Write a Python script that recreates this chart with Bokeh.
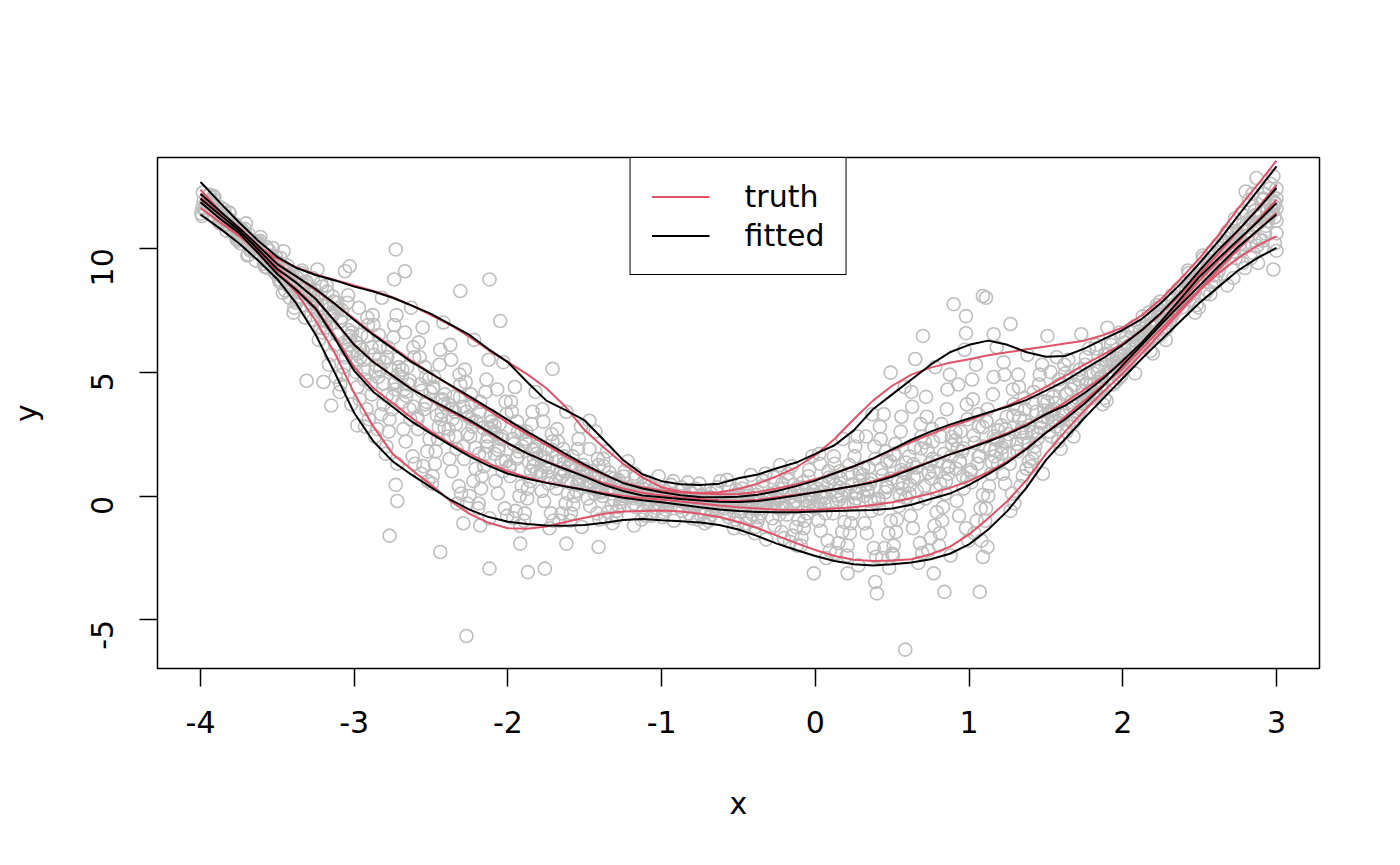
import math
from bokeh.plotting import figure
from bokeh.models import Range1d, FixedTicker, Legend, LegendItem
from bokeh.embed import file_html
from bokeh.resources import INLINE

# ---------------- data ----------------
grid_x = [-4.0, -3.875, -3.75, -3.625, -3.5, -3.375, -3.25, -3.125,
          -3.0, -2.875, -2.75, -2.625, -2.5, -2.375, -2.25, -2.125,
          -2.0, -1.875, -1.75, -1.625, -1.5, -1.375, -1.25, -1.125,
          -1.0, -0.875, -0.75, -0.625, -0.5, -0.375, -0.25, -0.125,
          0.0, 0.125, 0.25, 0.375, 0.5, 0.625, 0.75, 0.875,
          1.0, 1.125, 1.25, 1.375, 1.5, 1.625, 1.75, 1.875,
          2.0, 2.125, 2.25, 2.375, 2.5, 2.625, 2.75, 2.875,
          3.0]

true_q05 = [11.62, 11.05, 10.5, 9.85, 9.05, 8.2, 7.06, 5.75,
            4.15, 2.8, 1.7, 1.05, 0.45, -0.2, -0.72, -1.08,
            -1.3, -1.32, -1.23, -1.05, -0.88, -0.72, -0.62, -0.6,
            -0.58, -0.62, -0.72, -0.85, -1.05, -1.3, -1.6, -1.9,
            -2.18, -2.42, -2.57, -2.62, -2.6, -2.55, -2.35, -2.05,
            -1.55, -0.9, -0.2, 0.65, 1.7, 2.6, 3.45, 4.22,
            4.95, 5.75, 6.6, 7.45, 8.3, 9.0, 9.6, 10.1,
            10.48]
true_q25 = [11.85, 11.2, 10.55, 9.8, 9.0, 8.35, 7.6, 6.45,
            5.2, 4.35, 3.75, 3.15, 2.6, 2.12, 1.7, 1.32,
            1.0, 0.75, 0.55, 0.4, 0.25, 0.12, 0.0, -0.08,
            -0.15, -0.22, -0.3, -0.38, -0.45, -0.5, -0.55, -0.56,
            -0.55, -0.5, -0.45, -0.36, -0.25, -0.08, 0.1, 0.33,
            0.6, 0.97, 1.4, 1.95, 2.55, 3.2, 3.85, 4.5,
            5.15, 5.95, 6.75, 7.55, 8.35, 9.15, 9.95, 10.7,
            11.42]
true_q50 = [12.0, 11.35, 10.7, 9.97, 9.2, 8.6, 7.95, 7.05,
            6.1, 5.42, 4.85, 4.32, 3.85, 3.42, 3.0, 2.55,
            2.1, 1.72, 1.4, 1.1, 0.8, 0.52, 0.3, 0.13,
            0.02, -0.07, -0.12, -0.17, -0.2, -0.15, -0.05, 0.05,
            0.15, 0.27, 0.4, 0.6, 0.85, 1.12, 1.4, 1.68,
            1.95, 2.24, 2.55, 2.9, 3.3, 3.78, 4.3, 4.83,
            5.4, 6.15, 6.95, 7.82, 8.7, 9.5, 10.25, 11.1,
            11.96]
true_q75 = [12.15, 11.45, 10.85, 10.12, 9.4, 8.85, 8.3, 7.75,
            7.15, 6.55, 6.0, 5.45, 4.95, 4.45, 3.95, 3.45,
            2.95, 2.5, 2.05, 1.6, 1.2, 0.85, 0.55, 0.35,
            0.22, 0.14, 0.1, 0.07, 0.08, 0.16, 0.3, 0.47,
            0.68, 0.92, 1.2, 1.5, 1.85, 2.18, 2.5, 2.8,
            3.05, 3.35, 3.65, 4.0, 4.4, 4.85, 5.3, 5.72,
            6.15, 6.7, 7.35, 8.12, 8.95, 9.8, 10.7, 11.6,
            12.56]
true_q95 = [12.36, 11.5, 10.75, 10.05, 9.58, 9.22, 8.94, 8.72,
            8.5, 8.27, 8.02, 7.68, 7.3, 6.9, 6.42, 5.88,
            5.4, 4.92, 4.35, 3.6, 2.65, 1.95, 1.3, 0.75,
            0.35, 0.17, 0.12, 0.15, 0.28, 0.5, 0.8, 1.15,
            1.65, 2.3, 3.1, 3.85, 4.45, 4.9, 5.18, 5.38,
            5.52, 5.68, 5.8, 5.92, 6.03, 6.15, 6.27, 6.5,
            6.8, 7.3, 7.95, 8.75, 9.6, 10.55, 11.6, 12.55,
            13.53]

fit_q05 = [11.36, 10.8, 10.2, 9.5, 8.75, 7.75, 6.5, 4.95,
           3.35, 2.2, 1.4, 0.85, 0.35, -0.15, -0.55, -0.85,
           -1.04, -1.13, -1.19, -1.2, -1.17, -1.08, -0.97, -0.93,
           -0.98, -1.02, -1.07, -1.17, -1.35, -1.62, -1.92, -2.18,
           -2.42, -2.62, -2.75, -2.8, -2.75, -2.68, -2.55, -2.33,
           -1.95, -1.35, -0.6, 0.35, 1.45, 2.3, 3.15, 3.95,
           4.75, 5.55, 6.3, 7.05, 7.8, 8.45, 9.1, 9.6,
           10.01]
fit_q25 = [11.85, 11.2, 10.62, 9.8, 8.95, 8.3, 7.55, 6.35,
           5.05, 4.2, 3.6, 3.0, 2.52, 2.05, 1.6, 1.22,
           0.9, 0.7, 0.53, 0.38, 0.24, 0.07, -0.07, -0.17,
           -0.25, -0.35, -0.45, -0.54, -0.6, -0.64, -0.65, -0.65,
           -0.62, -0.6, -0.58, -0.56, -0.5, -0.35, -0.12, 0.1,
           0.45, 0.88, 1.35, 1.9, 2.55, 3.1, 3.72, 4.45,
           5.28, 6.1, 6.93, 7.72, 8.49, 9.28, 10.05, 10.7,
           11.36]
fit_q50 = [12.0, 11.35, 10.72, 9.95, 9.15, 8.6, 7.95, 7.05,
           6.1, 5.4, 4.86, 4.3, 3.88, 3.48, 3.06, 2.6,
           2.13, 1.72, 1.38, 1.08, 0.78, 0.45, 0.2, 0.02,
           -0.05, -0.12, -0.18, -0.23, -0.24, -0.2, -0.1, 0.02,
           0.15, 0.27, 0.4, 0.55, 0.78, 1.08, 1.38, 1.68,
           1.93, 2.2, 2.5, 2.85, 3.3, 3.65, 4.15, 4.75,
           5.47, 6.2, 7.06, 7.95, 8.85, 9.6, 10.33, 11.05,
           11.82]
fit_q75 = [12.2, 11.5, 10.82, 10.1, 9.35, 8.85, 8.35, 7.75,
           7.1, 6.5, 5.95, 5.4, 4.94, 4.48, 4.02, 3.55,
           3.07, 2.6, 2.15, 1.7, 1.27, 0.88, 0.52, 0.3,
           0.15, 0.03, -0.04, -0.05, -0.03, 0.05, 0.2, 0.4,
           0.62, 0.92, 1.2, 1.52, 1.88, 2.27, 2.6, 2.88,
           3.13, 3.37, 3.6, 3.88, 4.25, 4.65, 5.12, 5.57,
           6.1, 6.7, 7.4, 8.2, 9.1, 9.95, 10.72, 11.55,
           12.43]
fit_q95 = [12.67, 11.85, 11.05, 10.3, 9.65, 9.2, 8.92, 8.7,
           8.45, 8.25, 8.0, 7.68, 7.35, 6.93, 6.5, 5.92,
           5.4, 4.6, 3.85, 3.47, 3.05, 2.25, 1.45, 0.88,
           0.6, 0.47, 0.44, 0.5, 0.72, 0.87, 1.12, 1.35,
           1.7, 2.05, 2.65, 3.5, 4.1, 4.7, 5.3, 5.8,
           6.1, 6.27, 6.1, 5.8, 5.62, 5.65, 5.95, 6.33,
           6.7, 7.15, 7.8, 8.55, 9.4, 10.3, 11.3, 12.3,
           13.3]

# observations: the dense cloud, read band by band (8 per 0.1 of x)
cloud_x = [
    -3.99, -3.97, -3.95, -3.93, -3.91, -3.98, -3.94, -3.92,
    -3.82, -3.88, -3.84, -3.86, -3.89, -3.81, -3.87, -3.83,
    -3.75, -3.71, -3.79, -3.73, -3.77, -3.74, -3.78, -3.72,
    -3.69, -3.67, -3.65, -3.63, -3.61, -3.68, -3.64, -3.62,
    -3.52, -3.58, -3.54, -3.56, -3.59, -3.51, -3.57, -3.53,
    -3.45, -3.41, -3.49, -3.43, -3.47, -3.44, -3.48, -3.42,
    -3.39, -3.37, -3.35, -3.33, -3.31, -3.38, -3.34, -3.32,
    -3.22, -3.28, -3.24, -3.26, -3.29, -3.21, -3.27, -3.23,
    -3.15, -3.11, -3.19, -3.13, -3.17, -3.14, -3.18, -3.12,
    -3.09, -3.07, -3.05, -3.03, -3.01, -3.08, -3.04, -3.02,
    -2.92, -2.98, -2.94, -2.96, -2.99, -2.91, -2.97, -2.93,
    -2.85, -2.81, -2.89, -2.83, -2.87, -2.84, -2.88, -2.82,
    -2.79, -2.77, -2.75, -2.73, -2.71, -2.78, -2.74, -2.72,
    -2.62, -2.68, -2.64, -2.66, -2.69, -2.61, -2.67, -2.63,
    -2.55, -2.51, -2.59, -2.53, -2.57, -2.54, -2.58, -2.52,
    -2.49, -2.47, -2.45, -2.43, -2.41, -2.48, -2.44, -2.42,
    -2.32, -2.38, -2.34, -2.36, -2.39, -2.31, -2.37, -2.33,
    -2.25, -2.21, -2.29, -2.23, -2.27, -2.24, -2.28, -2.22,
    -2.19, -2.17, -2.15, -2.13, -2.11, -2.18, -2.14, -2.12,
    -2.02, -2.08, -2.04, -2.06, -2.09, -2.01, -2.07, -2.03,
    -1.95, -1.91, -1.99, -1.93, -1.97, -1.94, -1.98, -1.92,
    -1.89, -1.87, -1.85, -1.83, -1.81, -1.88, -1.84, -1.82,
    -1.72, -1.78, -1.74, -1.76, -1.79, -1.71, -1.77, -1.73,
    -1.65, -1.61, -1.69, -1.63, -1.67, -1.64, -1.68, -1.62,
    -1.59, -1.57, -1.55, -1.53, -1.51, -1.58, -1.54, -1.52,
    -1.42, -1.48, -1.44, -1.46, -1.49, -1.41, -1.47, -1.43,
    -1.35, -1.31, -1.39, -1.33, -1.37, -1.34, -1.38, -1.32,
    -1.29, -1.27, -1.25, -1.23, -1.21, -1.28, -1.24, -1.22,
    -1.12, -1.18, -1.14, -1.16, -1.19, -1.11, -1.17, -1.13,
    -1.05, -1.01, -1.09, -1.03, -1.07, -1.04, -1.08, -1.02,
    -0.99, -0.97, -0.95, -0.93, -0.91, -0.98, -0.94, -0.92,
    -0.82, -0.88, -0.84, -0.86, -0.89, -0.81, -0.87, -0.83,
    -0.75, -0.71, -0.79, -0.73, -0.77, -0.74, -0.78, -0.72,
    -0.69, -0.67, -0.65, -0.63, -0.61, -0.68, -0.64, -0.62,
    -0.52, -0.58, -0.54, -0.56, -0.59, -0.51, -0.57, -0.53,
    -0.45, -0.41, -0.49, -0.43, -0.47, -0.44, -0.48, -0.42,
    -0.39, -0.37, -0.35, -0.33, -0.31, -0.38, -0.34, -0.32,
    -0.22, -0.28, -0.24, -0.26, -0.29, -0.21, -0.27, -0.23,
    -0.15, -0.11, -0.19, -0.13, -0.17, -0.14, -0.18, -0.12,
    -0.09, -0.07, -0.05, -0.03, -0.01, -0.08, -0.04, -0.02,
    0.08, 0.02, 0.06, 0.04, 0.01, 0.09, 0.03, 0.07,
    0.15, 0.19, 0.11, 0.17, 0.13, 0.16, 0.12, 0.18,
    0.21, 0.23, 0.25, 0.27, 0.29, 0.22, 0.26, 0.28,
    0.38, 0.32, 0.36, 0.34, 0.31, 0.39, 0.33, 0.37,
    0.45, 0.49, 0.41, 0.47, 0.43, 0.46, 0.42, 0.48,
    0.51, 0.53, 0.55, 0.57, 0.59, 0.52, 0.56, 0.58,
    0.68, 0.62, 0.66, 0.64, 0.61, 0.69, 0.63, 0.67,
    0.75, 0.79, 0.71, 0.77, 0.73, 0.76, 0.72, 0.78,
    0.81, 0.83, 0.85, 0.87, 0.89, 0.82, 0.86, 0.88,
    0.98, 0.92, 0.96, 0.94, 0.91, 0.99, 0.93, 0.97,
    1.05, 1.09, 1.01, 1.07, 1.03, 1.06, 1.02, 1.08,
    1.11, 1.13, 1.15, 1.17, 1.19, 1.12, 1.16, 1.18,
    1.28, 1.22, 1.26, 1.24, 1.21, 1.29, 1.23, 1.27,
    1.35, 1.39, 1.31, 1.37, 1.33, 1.36, 1.32, 1.38,
    1.41, 1.43, 1.45, 1.47, 1.49, 1.42, 1.46, 1.48,
    1.58, 1.52, 1.56, 1.54, 1.51, 1.59, 1.53, 1.57,
    1.65, 1.69, 1.61, 1.67, 1.63, 1.66, 1.62, 1.68,
    1.71, 1.73, 1.75, 1.77, 1.79, 1.72, 1.76, 1.78,
    1.88, 1.82, 1.86, 1.84, 1.81, 1.89, 1.83, 1.87,
    1.95, 1.99, 1.91, 1.97, 1.93, 1.96, 1.92, 1.98,
    2.01, 2.03, 2.05, 2.07, 2.09, 2.02, 2.06, 2.08,
    2.18, 2.12, 2.16, 2.14, 2.11, 2.19, 2.13, 2.17,
    2.25, 2.29, 2.21, 2.27, 2.23, 2.26, 2.22, 2.28,
    2.31, 2.33, 2.35, 2.37, 2.39, 2.32, 2.36, 2.38,
    2.48, 2.42, 2.46, 2.44, 2.41, 2.49, 2.43, 2.47,
    2.55, 2.59, 2.51, 2.57, 2.53, 2.56, 2.52, 2.58,
    2.61, 2.63, 2.65, 2.67, 2.69, 2.62, 2.66, 2.68,
    2.78, 2.72, 2.76, 2.74, 2.71, 2.79, 2.73, 2.77,
    2.85, 2.89, 2.81, 2.87, 2.83, 2.86, 2.82, 2.88,
    2.91, 2.93, 2.95, 2.97, 2.99, 2.92, 2.96, 2.98,
    3.0, 3.0, 3.0, 3.0, 3.0, 2.99, 2.99, 3.0,
]
cloud_y = [
    11.3, 11.5, 11.7, 11.85, 12.05, 11.9, 12.15, 11.75,
    10.95, 11.05, 11.2, 11.3, 11.5, 11.4, 11.65, 10.7,
    10.4, 10.55, 10.65, 10.75, 10.95, 10.2, 10.85, 10.6,
    9.75, 9.95, 10.1, 10.2, 10.45, 10.35, 9.5, 10.05,
    9.05, 9.25, 9.45, 9.55, 9.8, 9.65, 10.05, 9.35,
    8.3, 8.55, 8.75, 8.95, 9.2, 9.05, 9.6, 8.0,
    7.6, 7.95, 8.2, 8.35, 8.6, 8.85, 9.1, 7.2,
    6.8, 7.3, 7.7, 7.9, 8.15, 8.45, 8.8, 6.3,
    5.7, 6.5, 7.1, 7.4, 7.7, 8.05, 8.5, 4.8,
    4.5, 5.2, 5.9, 6.3, 6.9, 7.5, 8.1, 3.7,
    3.5, 4.4, 5.1, 5.6, 6.2, 6.9, 7.6, 2.8,
    2.7, 3.7, 4.5, 5.1, 5.7, 6.5, 7.3, 8.0,
    2.0, 3.1, 4.0, 4.6, 5.2, 6.0, 6.9, 1.3,
    1.6, 2.7, 3.5, 4.2, 4.8, 5.6, 6.6, 7.6,
    1.2, 2.3, 3.2, 3.8, 4.5, 5.2, 6.2, 0.6,
    0.8, 1.8, 2.8, 3.4, 4.1, 4.8, 5.9, 7.0,
    0.4, 1.5, 2.4, 3.1, 3.7, 4.5, 5.5, -0.3,
    0.0, 1.1, 2.0, 2.8, 3.4, 4.1, 5.1, 6.3,
    -0.3, 0.8, 1.7, 2.4, 3.0, 3.8, 4.7, -0.9,
    -0.5, 0.6, 1.4, 2.0, 2.6, 3.3, 4.3, 5.4,
    -0.6, 0.4, 1.2, 1.8, 2.3, 3.0, 3.8, -1.2,
    -0.7, 0.3, 1.0, 1.5, 2.0, 2.6, 3.4, 4.2,
    -0.7, 0.2, 0.8, 1.2, 1.6, 2.2, 3.0, -1.3,
    -0.7, 0.1, 0.6, 1.0, 1.4, 1.9, 2.7, 3.4,
    -0.7, 0.0, 0.45, 0.8, 1.1, 1.6, 2.3, -1.25,
    -0.7, -0.1, 0.3, 0.55, 0.85, 1.25, 1.9, 2.6,
    -0.65, -0.15, 0.15, 0.35, 0.6, 0.95, 1.5, -1.1,
    -0.6, -0.25, 0.0, 0.15, 0.35, 0.65, 1.0, 1.4,
    -0.6, -0.3, -0.05, 0.05, 0.2, 0.45, 0.75, -0.95,
    -0.6, -0.35, -0.12, -0.02, 0.1, 0.3, 0.55, 0.8,
    -0.65, -0.4, -0.2, -0.1, 0.02, 0.2, 0.45, -1.0,
    -0.7, -0.45, -0.25, -0.15, -0.05, 0.12, 0.35, 0.55,
    -0.75, -0.55, -0.35, -0.2, -0.1, 0.05, 0.3, -1.1,
    -0.85, -0.6, -0.4, -0.25, -0.1, 0.1, 0.35, 0.6,
    -0.95, -0.7, -0.45, -0.3, -0.12, 0.1, 0.4, -1.3,
    -1.1, -0.75, -0.5, -0.3, -0.1, 0.15, 0.5, 0.85,
    -1.25, -0.85, -0.5, -0.3, -0.05, 0.2, 0.6, -1.75,
    -1.45, -0.9, -0.5, -0.25, 0.0, 0.3, 0.75, 1.25,
    -1.6, -0.95, -0.45, -0.2, 0.1, 0.45, 0.9, -2.0,
    -1.7, -1.0, -0.4, -0.1, 0.2, 0.55, 1.05, 1.6,
    -1.8, -1.0, -0.35, -0.05, 0.3, 0.75, 1.3, -2.5,
    -1.9, -1.05, -0.3, 0.0, 0.45, 1.0, 1.6, 2.3,
    -2.0, -1.1, -0.3, 0.1, 0.6, 1.25, 2.0, -2.8,
    -2.1, -1.1, -0.2, 0.2, 0.85, 1.5, 2.4, 3.3,
    -2.1, -1.0, -0.1, 0.35, 1.1, 1.8, 2.8, -2.9,
    -2.0, -0.95, 0.0, 0.55, 1.35, 2.1, 3.2, 4.4,
    -1.9, -0.8, 0.2, 0.75, 1.6, 2.4, 3.6, -2.7,
    -1.7, -0.65, 0.4, 1.0, 1.85, 2.7, 4.0, 5.2,
    -1.5, -0.45, 0.6, 1.2, 2.05, 2.9, 4.3, -2.4,
    -1.3, -0.2, 0.8, 1.4, 2.25, 3.1, 4.5, 5.9,
    -1.0, 0.05, 1.05, 1.6, 2.45, 3.3, 4.7, -1.8,
    -0.5, 0.4, 1.35, 1.85, 2.65, 3.5, 4.8, 6.0,
    0.1, 0.9, 1.7, 2.2, 2.85, 3.7, 4.9, -0.6,
    0.8, 1.4, 2.1, 2.55, 3.15, 3.95, 4.9, 5.7,
    1.5, 2.0, 2.55, 2.95, 3.45, 4.2, 4.9, 0.9,
    2.2, 2.6, 3.0, 3.3, 3.8, 4.5, 5.0, 5.6,
    2.8, 3.05, 3.4, 3.65, 4.1, 4.8, 5.3, 2.4,
    3.35, 3.6, 3.85, 4.05, 4.5, 5.1, 5.6, 5.95,
    3.95, 4.2, 4.45, 4.6, 4.95, 5.5, 5.95, 3.7,
    4.6, 4.85, 5.05, 5.2, 5.5, 5.9, 6.35, 6.6,
    5.2, 5.45, 5.65, 5.8, 6.05, 6.4, 6.75, 4.95,
    5.85, 6.15, 6.3, 6.45, 6.65, 6.95, 7.25, 7.4,
    6.55, 6.8, 6.95, 7.05, 7.25, 7.45, 7.7, 6.3,
    7.1, 7.4, 7.6, 7.75, 7.9, 8.1, 8.35, 8.45,
    7.7, 8.05, 8.3, 8.5, 8.65, 8.8, 9.0, 7.4,
    8.3, 8.65, 8.95, 9.1, 9.3, 9.5, 9.7, 9.85,
    8.9, 9.3, 9.6, 9.8, 9.95, 10.15, 10.45, 8.5,
    9.4, 9.85, 10.15, 10.35, 10.55, 10.8, 11.2, 11.4,
    9.8, 10.35, 10.7, 10.95, 11.2, 11.5, 11.95, 9.4,
    10.3, 10.9, 11.3, 11.55, 11.85, 12.2, 12.6, 12.9,
    10.6, 11.1, 11.6, 12.0, 12.4, 11.8, 10.2, 9.9,
]

# second pass over the same bands, filling the gaps between circles
cloud2_x = [
    -3.995, -3.975, -3.955, -3.935, -3.915, -3.985, -3.945, -3.925,
    -3.805, -3.865, -3.835, -3.885, -3.845, -3.855, -3.815, -3.875,
    -3.765, -3.725, -3.785, -3.745, -3.705, -3.735, -3.775, -3.755,
    -3.695, -3.675, -3.655, -3.635, -3.615, -3.685, -3.645, -3.625,
    -3.505, -3.565, -3.535, -3.585, -3.545, -3.555, -3.515, -3.575,
    -3.465, -3.425, -3.485, -3.445, -3.405, -3.435, -3.475, -3.455,
    -3.395, -3.375, -3.355, -3.335, -3.315, -3.385, -3.345, -3.325,
    -3.205, -3.265, -3.235, -3.285, -3.245, -3.255, -3.215, -3.275,
    -3.165, -3.125, -3.185, -3.145, -3.105, -3.135, -3.175, -3.155,
    -3.095, -3.075, -3.055, -3.035, -3.015, -3.085, -3.045, -3.025,
    -2.905, -2.965, -2.935, -2.985, -2.945, -2.955, -2.915, -2.975,
    -2.865, -2.825, -2.885, -2.845, -2.805, -2.835, -2.875, -2.855,
    -2.795, -2.775, -2.755, -2.735, -2.715, -2.785, -2.745, -2.725,
    -2.605, -2.665, -2.635, -2.685, -2.645, -2.655, -2.615, -2.675,
    -2.565, -2.525, -2.585, -2.545, -2.505, -2.535, -2.575, -2.555,
    -2.495, -2.475, -2.455, -2.435, -2.415, -2.485, -2.445, -2.425,
    -2.305, -2.365, -2.335, -2.385, -2.345, -2.355, -2.315, -2.375,
    -2.265, -2.225, -2.285, -2.245, -2.205, -2.235, -2.275, -2.255,
    -2.195, -2.175, -2.155, -2.135, -2.115, -2.185, -2.145, -2.125,
    -2.005, -2.065, -2.035, -2.085, -2.045, -2.055, -2.015, -2.075,
    -1.965, -1.925, -1.985, -1.945, -1.905, -1.935, -1.975, -1.955,
    -1.895, -1.875, -1.855, -1.835, -1.815, -1.885, -1.845, -1.825,
    -1.705, -1.765, -1.735, -1.785, -1.745, -1.755, -1.715, -1.775,
    -1.665, -1.625, -1.685, -1.645, -1.605, -1.635, -1.675, -1.655,
    -1.595, -1.575, -1.555, -1.535, -1.515, -1.585, -1.545, -1.525,
    -1.405, -1.465, -1.435, -1.485, -1.445, -1.455, -1.415, -1.475,
    -1.365, -1.325, -1.385, -1.345, -1.305, -1.335, -1.375, -1.355,
    -1.295, -1.275, -1.255, -1.235, -1.215, -1.285, -1.245, -1.225,
    -1.105, -1.165, -1.135, -1.185, -1.145, -1.155, -1.115, -1.175,
    -1.065, -1.025, -1.085, -1.045, -1.005, -1.035, -1.075, -1.055,
    -0.995, -0.975, -0.955, -0.935, -0.915, -0.985, -0.945, -0.925,
    -0.805, -0.865, -0.835, -0.885, -0.845, -0.855, -0.815, -0.875,
    -0.765, -0.725, -0.785, -0.745, -0.705, -0.735, -0.775, -0.755,
    -0.695, -0.675, -0.655, -0.635, -0.615, -0.685, -0.645, -0.625,
    -0.505, -0.565, -0.535, -0.585, -0.545, -0.555, -0.515, -0.575,
    -0.465, -0.425, -0.485, -0.445, -0.405, -0.435, -0.475, -0.455,
    -0.395, -0.375, -0.355, -0.335, -0.315, -0.385, -0.345, -0.325,
    -0.205, -0.265, -0.235, -0.285, -0.245, -0.255, -0.215, -0.275,
    -0.165, -0.125, -0.185, -0.145, -0.105, -0.135, -0.175, -0.155,
    -0.095, -0.075, -0.055, -0.035, -0.015, -0.085, -0.045, -0.025,
    0.095, 0.035, 0.065, 0.015, 0.055, 0.045, 0.085, 0.025,
    0.135, 0.175, 0.115, 0.155, 0.195, 0.165, 0.125, 0.145,
    0.205, 0.225, 0.245, 0.265, 0.285, 0.215, 0.255, 0.275,
    0.395, 0.335, 0.365, 0.315, 0.355, 0.345, 0.385, 0.325,
    0.435, 0.475, 0.415, 0.455, 0.495, 0.465, 0.425, 0.445,
    0.505, 0.525, 0.545, 0.565, 0.585, 0.515, 0.555, 0.575,
    0.695, 0.635, 0.665, 0.615, 0.655, 0.645, 0.685, 0.625,
    0.735, 0.775, 0.715, 0.755, 0.795, 0.765, 0.725, 0.745,
    0.805, 0.825, 0.845, 0.865, 0.885, 0.815, 0.855, 0.875,
    0.995, 0.935, 0.965, 0.915, 0.955, 0.945, 0.985, 0.925,
    1.035, 1.075, 1.015, 1.055, 1.095, 1.065, 1.025, 1.045,
    1.105, 1.125, 1.145, 1.165, 1.185, 1.115, 1.155, 1.175,
    1.295, 1.235, 1.265, 1.215, 1.255, 1.245, 1.285, 1.225,
    1.335, 1.375, 1.315, 1.355, 1.395, 1.365, 1.325, 1.345,
    1.405, 1.425, 1.445, 1.465, 1.485, 1.415, 1.455, 1.475,
    1.595, 1.535, 1.565, 1.515, 1.555, 1.545, 1.585, 1.525,
    1.635, 1.675, 1.615, 1.655, 1.695, 1.665, 1.625, 1.645,
    1.705, 1.725, 1.745, 1.765, 1.785, 1.715, 1.755, 1.775,
    1.895, 1.835, 1.865, 1.815, 1.855, 1.845, 1.885, 1.825,
    1.935, 1.975, 1.915, 1.955, 1.995, 1.965, 1.925, 1.945,
    2.005, 2.025, 2.045, 2.065, 2.085, 2.015, 2.055, 2.075,
    2.195, 2.135, 2.165, 2.115, 2.155, 2.145, 2.185, 2.125,
    2.235, 2.275, 2.215, 2.255, 2.295, 2.265, 2.225, 2.245,
    2.305, 2.325, 2.345, 2.365, 2.385, 2.315, 2.355, 2.375,
    2.495, 2.435, 2.465, 2.415, 2.455, 2.445, 2.485, 2.425,
    2.535, 2.575, 2.515, 2.555, 2.595, 2.565, 2.525, 2.545,
    2.605, 2.625, 2.645, 2.665, 2.685, 2.615, 2.655, 2.675,
    2.795, 2.735, 2.765, 2.715, 2.755, 2.745, 2.785, 2.725,
    2.835, 2.875, 2.815, 2.855, 2.895, 2.865, 2.825, 2.845,
    2.905, 2.925, 2.945, 2.965, 2.985, 2.915, 2.955, 2.975,
]
cloud2_y = [
    11.4, 11.6, 11.8, 11.95, 12.1, 12.25, 11.65, 11.9,
    10.85, 11.1, 11.25, 11.35, 11.55, 11.15, 11.45, 11.0,
    10.35, 10.5, 10.7, 10.8, 11.0, 10.6, 10.9, 10.3,
    9.7, 9.9, 10.05, 10.15, 10.3, 10.55, 9.85, 10.25,
    8.95, 9.2, 9.4, 9.5, 9.7, 9.9, 9.3, 9.6,
    8.2, 8.45, 8.65, 8.85, 9.0, 9.3, 8.6, 9.1,
    7.4, 7.8, 8.05, 8.3, 8.5, 8.7, 9.0, 8.15,
    6.6, 7.1, 7.5, 7.8, 8.05, 8.3, 8.6, 7.65,
    5.3, 6.1, 6.8, 7.25, 7.55, 7.85, 8.25, 6.95,
    4.2, 4.9, 5.6, 6.1, 6.6, 7.2, 7.8, 6.45,
    3.1, 3.9, 4.7, 5.35, 5.9, 6.5, 7.2, 5.75,
    2.4, 3.3, 4.1, 4.8, 5.4, 6.0, 6.9, 5.25,
    1.7, 2.6, 3.5, 4.3, 4.9, 5.6, 6.4, 7.3,
    1.3, 2.2, 3.1, 3.8, 4.5, 5.2, 6.0, 4.3,
    0.9, 1.8, 2.7, 3.5, 4.2, 4.8, 5.6, 6.8,
    0.5, 1.3, 2.3, 3.1, 3.7, 4.4, 5.3, 3.9,
    0.1, 1.0, 1.9, 2.7, 3.4, 4.0, 4.9, 6.1,
    -0.3, 0.6, 1.5, 2.4, 3.0, 3.7, 4.6, 3.2,
    -0.5, 0.3, 1.2, 2.0, 2.7, 3.4, 4.2, 5.5,
    -0.8, 0.1, 1.0, 1.7, 2.3, 2.9, 3.8, 2.5,
    -0.9, 0.0, 0.8, 1.5, 2.0, 2.6, 3.4, 4.4,
    -1.0, -0.1, 0.6, 1.2, 1.7, 2.3, 2.9, 1.9,
    -1.0, -0.2, 0.5, 1.0, 1.4, 1.9, 2.5, 3.5,
    -1.0, -0.3, 0.3, 0.8, 1.2, 1.6, 2.2, 1.1,
    -1.0, -0.35, 0.2, 0.6, 0.95, 1.3, 1.9, 2.8,
    -0.95, -0.4, 0.1, 0.4, 0.7, 1.0, 1.5, 0.6,
    -0.9, -0.4, 0.0, 0.25, 0.5, 0.75, 1.2, 1.8,
    -0.85, -0.45, -0.1, 0.1, 0.25, 0.5, 0.8, 0.2,
    -0.8, -0.45, -0.15, 0.0, 0.15, 0.3, 0.6, 0.9,
    -0.8, -0.5, -0.25, -0.08, 0.05, 0.2, 0.4, -0.05,
    -0.85, -0.55, -0.3, -0.15, -0.05, 0.1, 0.3, 0.6,
    -0.9, -0.6, -0.35, -0.2, -0.1, 0.0, 0.2, -0.15,
    -0.95, -0.65, -0.45, -0.25, -0.15, 0.0, 0.2, 0.5,
    -1.0, -0.75, -0.5, -0.3, -0.18, -0.05, 0.2, -0.25,
    -1.1, -0.85, -0.6, -0.35, -0.2, -0.05, 0.25, 0.65,
    -1.3, -0.9, -0.65, -0.4, -0.2, 0.0, 0.3, -0.25,
    -1.5, -1.0, -0.7, -0.4, -0.15, 0.05, 0.4, 0.9,
    -1.7, -1.2, -0.75, -0.4, -0.1, 0.15, 0.5, -0.15,
    -1.85, -1.25, -0.75, -0.35, 0.0, 0.25, 0.65, 1.2,
    -2.0, -1.3, -0.7, -0.25, 0.05, 0.35, 0.8, 0.0,
    -2.2, -1.4, -0.7, -0.2, 0.15, 0.5, 1.0, 1.7,
    -2.3, -1.45, -0.7, -0.15, 0.25, 0.7, 1.3, 0.2,
    -2.4, -1.5, -0.7, -0.1, 0.35, 0.9, 1.6, 2.4,
    -2.45, -1.5, -0.6, 0.0, 0.5, 1.15, 2.0, 0.45,
    -2.5, -1.5, -0.5, 0.15, 0.7, 1.4, 2.3, 3.3,
    -2.4, -1.45, -0.4, 0.3, 0.9, 1.7, 2.6, 0.95,
    -2.3, -1.3, -0.3, 0.45, 1.15, 1.95, 2.9, 4.2,
    -2.2, -1.2, -0.1, 0.7, 1.4, 2.2, 3.2, 1.3,
    -2.0, -1.0, 0.1, 0.9, 1.6, 2.4, 3.5, 4.9,
    -1.8, -0.8, 0.3, 1.1, 1.8, 2.6, 3.7, 1.9,
    -1.5, -0.5, 0.55, 1.3, 2.0, 2.8, 3.9, 5.3,
    -1.0, 0.0, 0.9, 1.6, 2.25, 3.0, 4.1, 2.3,
    -0.3, 0.5, 1.3, 1.95, 2.5, 3.2, 4.3, 5.4,
    0.4, 1.1, 1.8, 2.35, 2.85, 3.5, 4.4, 2.75,
    1.2, 1.75, 2.3, 2.75, 3.2, 3.75, 4.5, 5.3,
    1.9, 2.4, 2.8, 3.15, 3.5, 4.0, 4.7, 3.4,
    2.6, 2.95, 3.25, 3.55, 3.85, 4.3, 4.95, 5.5,
    3.25, 3.5, 3.75, 3.95, 4.25, 4.7, 5.3, 4.1,
    3.85, 4.1, 4.35, 4.55, 4.8, 5.2, 5.7, 6.1,
    4.5, 4.75, 4.95, 5.15, 5.35, 5.7, 6.1, 5.25,
    5.1, 5.35, 5.55, 5.75, 5.95, 6.2, 6.6, 6.85,
    5.75, 6.05, 6.25, 6.4, 6.55, 6.8, 7.1, 6.45,
    6.45, 6.7, 6.9, 7.0, 7.15, 7.35, 7.6, 7.85,
    7.0, 7.3, 7.5, 7.7, 7.85, 8.0, 8.25, 7.8,
    7.6, 7.9, 8.2, 8.4, 8.55, 8.7, 8.9, 9.1,
    8.15, 8.5, 8.8, 9.0, 9.2, 9.4, 9.6, 9.15,
    8.7, 9.1, 9.45, 9.7, 9.9, 10.05, 10.3, 10.6,
    9.2, 9.6, 10.0, 10.25, 10.45, 10.65, 11.0, 10.3,
    9.6, 10.1, 10.5, 10.8, 11.05, 11.35, 11.75, 12.2,
    10.0, 10.6, 11.1, 11.4, 11.7, 12.0, 12.4, 11.5,
]

# third pass: the thickest part of the cloud, between the middle curves
cloud3_x = [
    -3.988, -3.938, -3.962, -3.912, -3.812, -3.862, -3.838, -3.888,
    -3.788, -3.738, -3.762, -3.712, -3.612, -3.662, -3.638, -3.688,
    -3.588, -3.538, -3.562, -3.512, -3.412, -3.462, -3.438, -3.488,
    -3.388, -3.338, -3.362, -3.312, -3.212, -3.262, -3.238, -3.288,
    -3.188, -3.138, -3.162, -3.112, -3.012, -3.062, -3.038, -3.088,
    -2.988, -2.938, -2.962, -2.912, -2.812, -2.862, -2.838, -2.888,
    -2.788, -2.738, -2.762, -2.712, -2.612, -2.662, -2.638, -2.688,
    -2.588, -2.538, -2.562, -2.512, -2.412, -2.462, -2.438, -2.488,
    -2.388, -2.338, -2.362, -2.312, -2.212, -2.262, -2.238, -2.288,
    -2.188, -2.138, -2.162, -2.112, -2.012, -2.062, -2.038, -2.088,
    -1.988, -1.938, -1.962, -1.912, -1.812, -1.862, -1.838, -1.888,
    -1.788, -1.738, -1.762, -1.712, -1.612, -1.662, -1.638, -1.688,
    -1.588, -1.538, -1.562, -1.512, -1.412, -1.462, -1.438, -1.488,
    -1.388, -1.338, -1.362, -1.312, -1.212, -1.262, -1.238, -1.288,
    -1.188, -1.138, -1.162, -1.112, -1.012, -1.062, -1.038, -1.088,
    -0.988, -0.938, -0.962, -0.912, -0.812, -0.862, -0.838, -0.888,
    -0.788, -0.738, -0.762, -0.712, -0.612, -0.662, -0.638, -0.688,
    -0.588, -0.538, -0.562, -0.512, -0.412, -0.462, -0.438, -0.488,
    -0.388, -0.338, -0.362, -0.312, -0.212, -0.262, -0.238, -0.288,
    -0.188, -0.138, -0.162, -0.112, -0.012, -0.062, -0.038, -0.088,
    0.012, 0.062, 0.038, 0.088, 0.188, 0.138, 0.162, 0.112,
    0.212, 0.262, 0.238, 0.288, 0.388, 0.338, 0.362, 0.312,
    0.412, 0.462, 0.438, 0.488, 0.588, 0.538, 0.562, 0.512,
    0.612, 0.662, 0.638, 0.688, 0.788, 0.738, 0.762, 0.712,
    0.812, 0.862, 0.838, 0.888, 0.988, 0.938, 0.962, 0.912,
    1.012, 1.062, 1.038, 1.088, 1.188, 1.138, 1.162, 1.112,
    1.212, 1.262, 1.238, 1.288, 1.388, 1.338, 1.362, 1.312,
    1.412, 1.462, 1.438, 1.488, 1.588, 1.538, 1.562, 1.512,
    1.612, 1.662, 1.638, 1.688, 1.788, 1.738, 1.762, 1.712,
    1.812, 1.862, 1.838, 1.888, 1.988, 1.938, 1.962, 1.912,
    2.012, 2.062, 2.038, 2.088, 2.188, 2.138, 2.162, 2.112,
    2.212, 2.262, 2.238, 2.288, 2.388, 2.338, 2.362, 2.312,
    2.412, 2.462, 2.438, 2.488, 2.588, 2.538, 2.562, 2.512,
    2.612, 2.662, 2.638, 2.688, 2.788, 2.738, 2.762, 2.712,
    2.812, 2.862, 2.838, 2.888, 2.988, 2.938, 2.962, 2.912,
]
cloud3_y = [
    11.66, 11.78, 11.84, 11.95, 11.15, 11.22, 11.33, 11.42,
    10.63, 10.69, 10.72, 10.78, 10.06, 10.12, 10.2, 10.27,
    9.37, 9.45, 9.55, 9.66, 8.7, 8.8, 8.92, 9.05,
    8.22, 8.35, 8.5, 8.66, 7.7, 7.86, 8.04, 8.25,
    7.05, 7.3, 7.55, 7.8, 5.85, 6.2, 6.7, 7.05,
    5.0, 5.5, 6.0, 6.45, 4.55, 5.05, 5.55, 6.0,
    4.05, 4.55, 5.1, 5.55, 3.6, 4.05, 4.65, 5.1,
    3.1, 3.7, 4.25, 4.75, 2.75, 3.25, 3.85, 4.35,
    2.4, 2.9, 3.5, 4.0, 1.95, 2.5, 3.1, 3.6,
    1.7, 2.2, 2.75, 3.25, 1.4, 1.85, 2.4, 2.85,
    1.15, 1.6, 2.1, 2.55, 0.95, 1.35, 1.85, 2.2,
    0.85, 1.15, 1.55, 1.85, 0.6, 0.9, 1.3, 1.55,
    0.5, 0.7, 1.05, 1.25, 0.3, 0.5, 0.8, 0.95,
    0.22, 0.36, 0.55, 0.7, 0.03, 0.15, 0.3, 0.42,
    -0.08, 0.05, 0.16, 0.27, -0.15, -0.05, 0.05, 0.13,
    -0.22, -0.13, -0.03, 0.05, -0.31, -0.19, -0.1, -0.02,
    -0.4, -0.28, -0.2, -0.12, -0.44, -0.33, -0.22, -0.1,
    -0.5, -0.36, -0.24, -0.08, -0.52, -0.34, -0.2, -0.05,
    -0.53, -0.33, -0.18, 0.0, -0.5, -0.3, -0.13, 0.08,
    -0.5, -0.26, -0.04, 0.2, -0.45, -0.17, 0.06, 0.32,
    -0.42, -0.08, 0.18, 0.5, -0.37, 0.02, 0.34, 0.7,
    -0.33, 0.13, 0.47, 0.92, -0.25, 0.26, 0.65, 1.15,
    -0.17, 0.4, 0.84, 1.4, -0.07, 0.55, 1.05, 1.65,
    0.1, 0.74, 1.28, 1.92, 0.27, 0.94, 1.5, 2.17,
    0.48, 1.17, 1.7, 2.38, 0.7, 1.38, 1.93, 2.58,
    0.96, 1.6, 2.15, 2.78, 1.3, 1.9, 2.4, 3.02,
    1.7, 2.24, 2.7, 3.25, 2.12, 2.6, 3.04, 3.52,
    2.58, 3.0, 3.4, 3.82, 3.05, 3.45, 3.75, 4.15,
    3.44, 3.8, 4.15, 4.5, 3.92, 4.25, 4.55, 4.88,
    4.5, 4.8, 5.05, 5.32, 5.12, 5.35, 5.55, 5.75,
    5.7, 5.9, 6.06, 6.23, 6.38, 6.53, 6.67, 6.8,
    7.0, 7.11, 7.22, 7.33, 7.62, 7.74, 7.86, 7.97,
    8.27, 8.41, 8.54, 8.66, 8.9, 9.05, 9.2, 9.34,
    9.55, 9.7, 9.85, 10.0, 10.15, 10.3, 10.46, 10.62,
    10.68, 10.88, 11.07, 11.26, 11.25, 11.48, 11.7, 11.95,
]

# sparse outlying observations
outlier_x = [
    -2.27, 0.585, -2.73, -2.74, -2.67, -2.31, -2.12, -3.03, -3.06, -3.24, -3.46, -3.53,
    -2.05, -1.71, -1.47, -3.31, -3.15, -3.2, -2.98, -2.77, -2.72, -2.73, -2.44, -2.18,
    -1.92, -2.12, -1.87, -1.76, -1.62, -1.41, -1.18, -2.29,
    1.09, 1.11, 0.9, 0.98, 0.98, 0.7, 0.65, 0.49, 1.27, 1.51, 1.73, 1.16, 1.9,
    -0.01, 0.39, 0.4, 0.77, 0.84, 1.07, 0.21, 1.12, 1.09, 0.5,
    2.87, 2.8, 2.98, 2.72, 2.57, 2.68,
]
outlier_y = [
    -5.65, -6.2, 9.95, 8.74, 9.07, 8.27, 8.74, 9.27, 9.07, 9.14, 9.88, 10.01,
    7.06, 5.13, 3.04, 4.65, 3.65, 4.6, 2.85, -1.6, -0.2, 0.45, -2.26, -1.19,
    -1.92, -2.93, -3.07, -2.93, -1.92, -2.06, -1.19, -1.1,
    8.07, 8.0, 7.74, 7.26, 6.57, 6.46, 5.53, 4.98, 6.94, 6.46, 6.53, 6.53, 6.79,
    -3.12, -3.47, -3.93, -3.12, -3.87, -3.87, -3.12, -2.06, -2.46, -2.33,
    12.83, 12.29, 9.14, 8.8, 8.14, 10.68,
]

x_ticks = [-4, -3, -2, -1, 0, 1, 2, 3]
y_ticks = [-5, 0, 5, 10]
legend_labels = ["truth", "fitted"]

TRUTH_COLOR = "#DF536B"
FIT_COLOR = "#000000"
POINT_COLOR = "#BEBEBE"
FONT = "DejaVu Sans"
FS = "30px"

# ---------------- figure ----------------
p = figure(frame_width=1162, frame_height=511,
           min_border_left=157, min_border_right=65, min_border_top=157, min_border_bottom=181,
           x_range=Range1d(-4.28, 3.28), y_range=Range1d(-6.96, 13.66),
           output_backend="svg", toolbar_location=None)
p.background_fill_color = "white"
p.border_fill_color = "white"
p.grid.visible = False
p.outline_line_color = "black"
p.outline_line_width = 1.5
p.outline_line_alpha = 1.0

all_x = cloud_x + cloud2_x + cloud3_x + outlier_x
all_y = cloud_y + cloud2_y + cloud3_y + outlier_y
p.scatter(all_x, all_y, marker="circle", size=13, fill_color=None,
          line_color=POINT_COLOR, line_width=1.6)

truth_renderers = []
for ys in [true_q05, true_q25, true_q50, true_q75, true_q95]:
    truth_renderers.append(p.line(grid_x, ys, line_color=TRUTH_COLOR, line_width=2))
fit_renderers = []
for ys in [fit_q05, fit_q25, fit_q50, fit_q75, fit_q95]:
    fit_renderers.append(p.line(grid_x, ys, line_color=FIT_COLOR, line_width=2))

# axes
for ax, ticks in ((p.xaxis, x_ticks), (p.yaxis, y_ticks)):
    ax.ticker = FixedTicker(ticks=ticks)
    ax.major_label_overrides = {t: str(t) for t in ticks}
    ax.axis_line_color = None
    ax.major_tick_out = 18
    ax.major_tick_in = 0
    ax.minor_tick_line_color = None
    ax.major_tick_line_color = "black"
    ax.major_tick_line_width = 1.5
    ax.major_label_text_font = FONT
    ax.major_label_text_font_size = FS
    ax.major_label_text_color = "black"
    ax.axis_label_text_font = FONT
    ax.axis_label_text_font_size = FS
    ax.axis_label_text_font_style = "normal"
    ax.axis_label_text_color = "black"

p.xaxis.axis_label = "x"
p.yaxis.axis_label = "y"
p.xaxis.major_label_standoff = 24
p.xaxis.axis_label_standoff = 50
p.yaxis.major_label_orientation = math.pi / 2
p.yaxis.major_label_standoff = 37
p.yaxis.axis_label_standoff = 34

legend = Legend(items=[LegendItem(label=legend_labels[0], renderers=[truth_renderers[0]]),
                       LegendItem(label=legend_labels[1], renderers=[fit_renderers[0]])],
                location="top_center", margin=0, padding=21, spacing=4,
                glyph_width=58, glyph_height=35, label_height=35, label_standoff=35,
                label_text_font=FONT, label_text_font_size=FS, label_text_color="black",
                border_line_color="black", border_line_width=1.5, border_line_alpha=1.0,
                background_fill_color="white", background_fill_alpha=1.0)
p.add_layout(legend)

open("out.html", "w").write(file_html(p, INLINE))
